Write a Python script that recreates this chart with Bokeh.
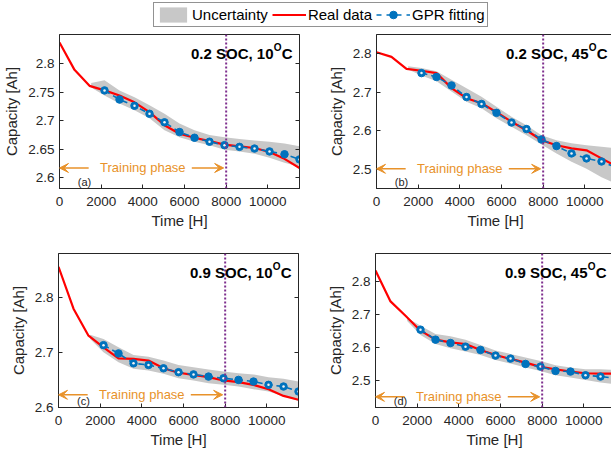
from bokeh.plotting import figure
from bokeh.layouts import column, row
from bokeh.models import (Range1d, FixedTicker, LinearAxis, Span, Label, Arrow,
                          VeeHead, Legend, LegendItem)
from bokeh.embed import file_html
from bokeh.resources import INLINE

# ---------------- data ----------------
time_real = [0, 720, 1440, 2160, 2880, 3600, 4320, 5040, 5760, 6480, 7200,
             7920, 8640, 9360, 10080, 10800, 11520]
time_gpr = [2160, 2880, 3600, 4320, 5040, 5760, 6480, 7200, 7920, 8640,
            9360, 10080, 10800, 11520]
band_t = [1520] + time_gpr

title_main = ["0.2 SOC, 10", "0.2 SOC, 45", "0.9 SOC, 10", "0.9 SOC, 45"]
title_sup = "O"
title_end = "C"
panel_tags = ["(a)", "(b)", "(c)", "(d)"]

real_a = [2.837, 2.789, 2.761, 2.753, 2.744, 2.732, 2.715, 2.692, 2.677, 2.670,
          2.664, 2.658, 2.655, 2.652, 2.645, 2.633, 2.617]
gpr_a = [2.753, 2.737, 2.726, 2.712, 2.697, 2.680, 2.670, 2.663, 2.657, 2.654,
         2.651, 2.646, 2.641, 2.632]
up_a = [2.766, 2.771, 2.753, 2.741, 2.727, 2.712, 2.695, 2.683, 2.675, 2.671,
        2.668, 2.665, 2.663, 2.660, 2.655]
lo_a = [2.758, 2.744, 2.730, 2.718, 2.704, 2.683, 2.671, 2.663, 2.657, 2.649,
        2.646, 2.642, 2.635, 2.626, 2.619]
open_a = [1, 0, 1, 1, 1, 0, 0, 1, 1, 1, 1, 1, 0, 1]

real_b = [2.804, 2.792, 2.761, 2.756, 2.750, 2.711, 2.685, 2.672, 2.649, 2.624,
          2.602, 2.576, 2.563, 2.555, 2.550, 2.529, 2.508]
gpr_b = [2.750, 2.740, 2.718, 2.688, 2.670, 2.647, 2.622, 2.605, 2.578, 2.561,
         2.542, 2.529, 2.521, 2.505]
up_b = [2.768, 2.763, 2.755, 2.733, 2.711, 2.689, 2.663, 2.637, 2.615, 2.589,
        2.576, 2.568, 2.563, 2.559, 2.555]
lo_b = [2.759, 2.744, 2.729, 2.702, 2.676, 2.659, 2.633, 2.611, 2.589, 2.565,
        2.542, 2.520, 2.502, 2.480, 2.463]
open_b = [1, 0, 0, 1, 1, 0, 1, 1, 0, 0, 1, 1, 1, 1]

real_c = [2.855, 2.779, 2.730, 2.709, 2.689, 2.688, 2.685, 2.671, 2.663, 2.659,
          2.655, 2.649, 2.646, 2.641, 2.633, 2.621, 2.614]
gpr_c = [2.713, 2.698, 2.680, 2.677, 2.671, 2.664, 2.660, 2.656, 2.653, 2.650,
         2.647, 2.641, 2.638, 2.629]
up_c = [2.732, 2.724, 2.709, 2.695, 2.692, 2.685, 2.677, 2.673, 2.669, 2.665,
        2.662, 2.660, 2.655, 2.652, 2.647]
lo_c = [2.724, 2.700, 2.682, 2.670, 2.667, 2.661, 2.653, 2.649, 2.644, 2.641,
        2.638, 2.633, 2.629, 2.621, 2.612]
open_c = [1, 0, 1, 1, 1, 1, 1, 0, 1, 0, 0, 1, 1, 1]

real_d = [2.832, 2.739, 2.696, 2.651, 2.624, 2.616, 2.611, 2.593, 2.578, 2.566,
          2.555, 2.542, 2.535, 2.528, 2.523, 2.522, 2.522]
gpr_d = [2.654, 2.624, 2.614, 2.603, 2.593, 2.576, 2.567, 2.551, 2.543, 2.530,
         2.528, 2.517, 2.513, 2.508]
up_d = [2.690, 2.666, 2.641, 2.634, 2.624, 2.608, 2.591, 2.581, 2.570, 2.560,
        2.547, 2.540, 2.535, 2.535, 2.533]
lo_d = [2.680, 2.638, 2.611, 2.598, 2.588, 2.578, 2.563, 2.552, 2.540, 2.530,
        2.517, 2.510, 2.503, 2.495, 2.490]
open_d = [1, 0, 0, 1, 0, 1, 1, 0, 1, 0, 0, 1, 1, 1]

y_ranges = [(2.581, 2.851), (2.451, 2.85), (2.6, 2.879), (2.42, 2.883)]
y_ticks = [[2.6, 2.65, 2.7, 2.75, 2.8], [2.5, 2.6, 2.7, 2.8],
           [2.6, 2.7, 2.8], [2.5, 2.6, 2.7, 2.8]]
y_tick_labels = [["2.6", "2.65", "2.7", "2.75", "2.8"], ["2.5", "2.6", "2.7", "2.8"],
                 ["2.6", "2.7", "2.8"], ["2.5", "2.6", "2.7", "2.8"]]
x_ticks = [0, 2000, 4000, 6000, 8000, 10000]
x_tick_labels = ["0", "2000", "4000", "6000", "8000", "10000"]
phase_y = [2.617, 2.502, 2.623, 2.452]

train_end = 8000
phase_text_x = 4000
arrow_left = (1400, 0)
arrow_right = (6350, 7880)

# ---------------- style ----------------
FONT = "Liberation Sans"
RED = "#FF0000"
BLUE = "#0072BD"
GRAY = "#C8C8C8"
PURPLE = "#7E2F8E"
ORANGE = "#E8922A"
AX = "#262626"


def make_panel(i, real, gpr, up, lo, opn, left_col):
    fw = 240 if left_col else 238
    x_end = 11520 * fw / 240
    p = figure(frame_width=fw, frame_height=154,
               x_range=Range1d(0, x_end), y_range=Range1d(*y_ranges[i]),
               toolbar_location=None, output_backend="svg",
               min_border_left=58 if left_col else 50,
               min_border_right=25 if left_col else 0,
               min_border_top=0, min_border_bottom=65 if i < 2 else 48)
    p.grid.visible = False
    p.outline_line_color = AX
    p.outline_line_width = 1
    p.background_fill_color = "white"
    p.border_fill_color = "white"

    p.varea(x=band_t, y1=lo, y2=up, fill_color=GRAY, fill_alpha=1.0)
    p.line(time_real, real, line_color=RED, line_width=2.2)
    p.line(time_gpr, gpr, line_color=BLUE, line_width=1.6, line_dash="6 4")
    p.scatter(time_gpr, gpr, size=7.5, fill_color=BLUE, line_color=BLUE)
    ox = [t for t, f in zip(time_gpr, opn) if f]
    oy = [v for v, f in zip(gpr, opn) if f]
    p.scatter(ox, oy, size=2.5, fill_color="#F4F4F4", line_color=None)

    p.add_layout(Span(location=train_end, dimension="height", line_color=PURPLE,
                      line_width=2, line_dash="2 2"))

    for (xs, xe) in (arrow_left, arrow_right):
        p.add_layout(Arrow(x_start=xs, x_end=xe, y_start=phase_y[i], y_end=phase_y[i],
                           line_color=ORANGE, line_width=1.5,
                           end=VeeHead(size=9, fill_color=ORANGE, line_color=ORANGE)))
    p.add_layout(Label(x=phase_text_x, y=phase_y[i], text="Training phase",
                       text_align="center", text_baseline="middle",
                       text_font=FONT, text_font_size="13px", text_color=ORANGE))
    # title with superscript "O"
    ytop = y_ranges[i][1]
    p.add_layout(Label(x=x_end, y=ytop, x_offset=-7, y_offset=-19,
                       text=title_end, text_align="right", text_baseline="middle",
                       text_font=FONT, text_font_size="15px", text_font_style="bold",
                       text_color="black"))
    p.add_layout(Label(x=x_end, y=ytop, x_offset=-18, y_offset=-13,
                       text=title_sup, text_align="right", text_baseline="middle",
                       text_font=FONT, text_font_size="10px", text_font_style="bold",
                       text_color="black"))
    p.add_layout(Label(x=x_end, y=ytop, x_offset=-26, y_offset=-19,
                       text=title_main[i], text_align="right", text_baseline="middle",
                       text_font=FONT, text_font_size="15px", text_font_style="bold",
                       text_color="black"))
    p.add_layout(Label(x=1200, y=y_ranges[i][0], y_offset=1, text=panel_tags[i],
                       text_align="center", text_baseline="bottom",
                       text_font=FONT, text_font_size="11px", text_color=AX))

    xa = p.xaxis[0]
    ya = p.yaxis[0]
    xa.ticker = FixedTicker(ticks=x_ticks)
    xa.major_label_overrides = dict(zip(x_ticks, x_tick_labels))
    ya.ticker = FixedTicker(ticks=y_ticks[i])
    ya.major_label_overrides = dict(zip(y_ticks[i], y_tick_labels[i]))
    xa.axis_label = "Time [H]"
    ya.axis_label = "Capacity [Ah]"
    for ax in (xa, ya):
        ax.axis_line_color = AX
        ax.major_tick_line_color = AX
        ax.major_tick_in = 4
        ax.major_tick_out = 0
        ax.minor_tick_line_color = None
        ax.major_label_text_font = FONT
        ax.major_label_text_font_size = "13.5px"
        ax.major_label_text_color = AX
        ax.axis_label_text_font = FONT
        ax.axis_label_text_font_size = "15px"
        ax.axis_label_text_font_style = "normal"
        ax.axis_label_text_color = AX
    xa.major_label_standoff = 8
    xa.axis_label_standoff = 3
    ya.major_label_standoff = 5
    ya.axis_label_standoff = 5

    if left_col:
        ra = LinearAxis(ticker=FixedTicker(ticks=y_ticks[i]))
        ra.major_label_overrides = {t: "" for t in y_ticks[i]}
        ra.major_label_standoff = 0
        ra.major_tick_in = 4
        ra.major_tick_out = 0
        ra.minor_tick_line_color = None
        ra.axis_line_color = AX
        ra.major_tick_line_color = AX
        p.add_layout(ra, "right")
    return p


pa = make_panel(0, real_a, gpr_a, up_a, lo_a, open_a, True)
pb = make_panel(1, real_b, gpr_b, up_b, lo_b, open_b, False)
pc = make_panel(2, real_c, gpr_c, up_c, lo_c, open_c, True)
pd = make_panel(3, real_d, gpr_d, up_d, lo_d, open_d, False)

# ---------------- legend strip ----------------
leg = figure(width=611, height=34, x_range=Range1d(-3, -2), y_range=Range1d(-3, -2),
             toolbar_location=None, output_backend="svg", min_border=0)
leg.axis.visible = False
leg.grid.visible = False
leg.outline_line_color = None
r_band = leg.varea(x=band_t, y1=lo_a, y2=up_a, fill_color=GRAY)
r_red = leg.line(time_real, real_a, line_color=RED, line_width=2.2)
r_gl = leg.line(time_gpr, gpr_a, line_color=BLUE, line_width=1.6, line_dash="5 5")
r_gm = leg.scatter(time_gpr, gpr_a, size=7, fill_color=BLUE, line_color=BLUE)
legend = Legend(items=[LegendItem(label="Uncertainty", renderers=[r_band]),
                       LegendItem(label="Real data", renderers=[r_red]),
                       LegendItem(label="GPR fitting", renderers=[r_gl, r_gm])],
                orientation="horizontal", location=(153, 7),
                label_text_font=FONT, label_text_font_size="15px",
                label_text_color="black", glyph_width=34, glyph_height=19,
                label_height=19, label_standoff=2, spacing=4, padding=2,
                margin=0, border_line_color=AX, border_line_width=1,
                background_fill_color="white", background_fill_alpha=1)
leg.add_layout(legend, "center")

layout = column(leg, row(pa, pb), row(pc, pd))
open("out.html", "w").write(file_html(layout, INLINE))
